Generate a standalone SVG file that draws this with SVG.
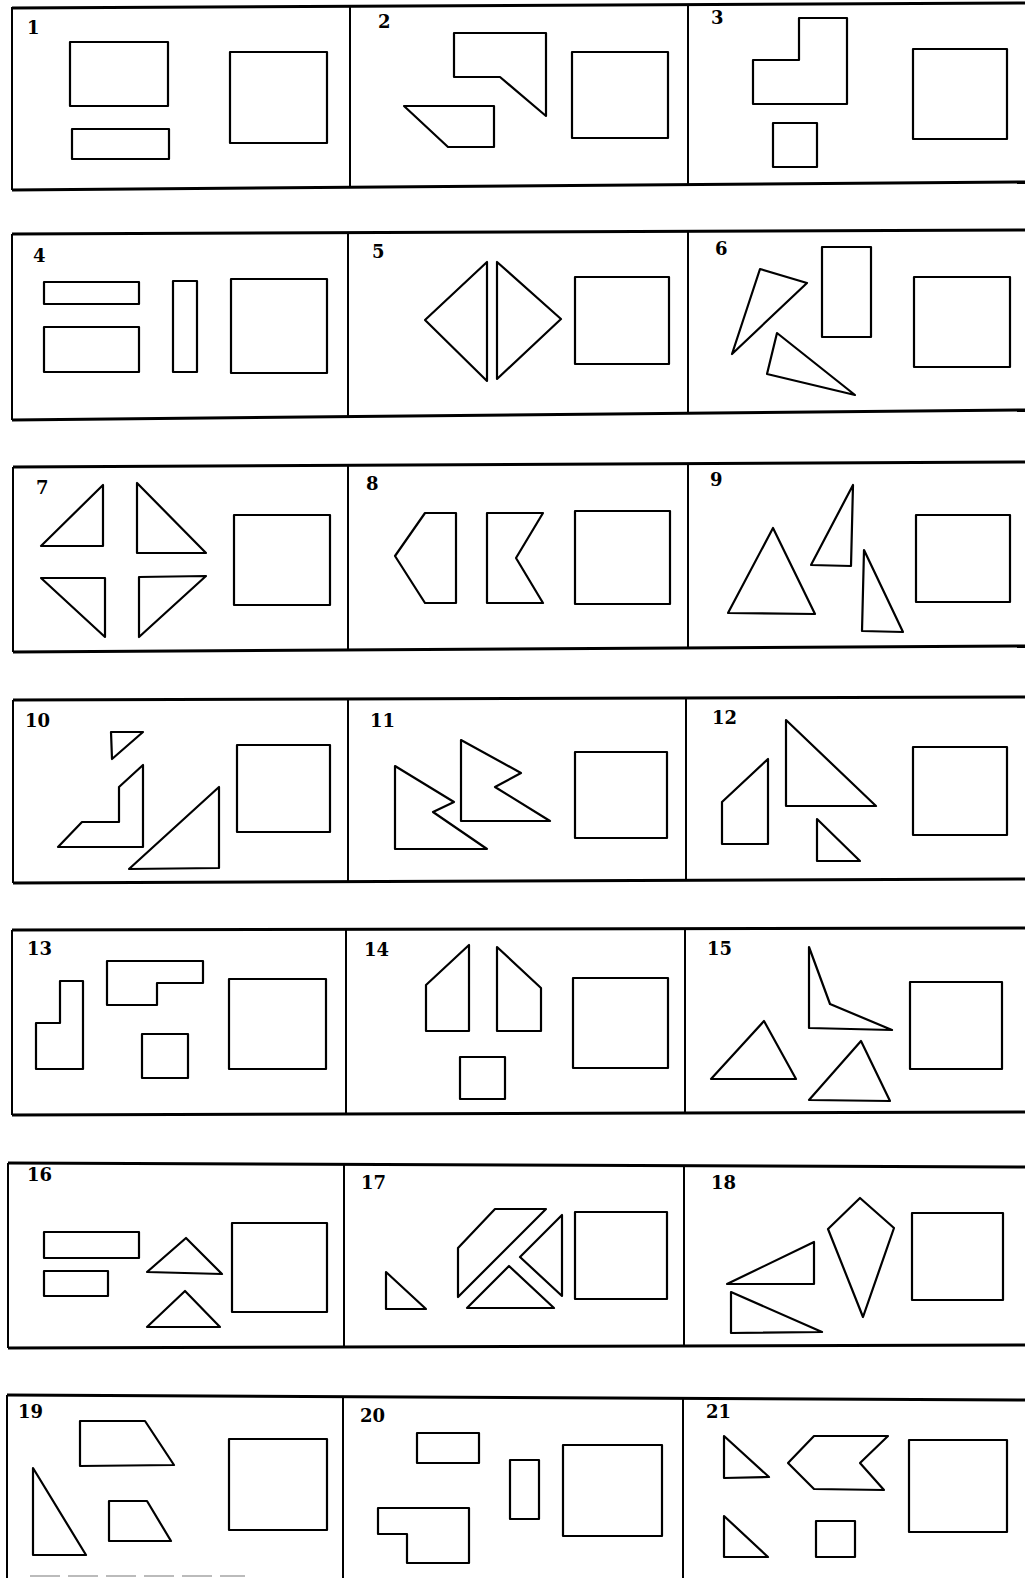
<svg xmlns="http://www.w3.org/2000/svg" width="1025" height="1578" viewBox="0 0 1025 1578">
<style>
.s{fill:none;stroke:#000;stroke-width:2.2;stroke-linejoin:round}
.h{fill:none;stroke:#000;stroke-width:3}
.v{fill:none;stroke:#000;stroke-width:2}
.n{font-family:"DejaVu Serif","Liberation Serif",serif;font-weight:bold;font-size:18px;fill:#000}
</style>
<rect width="1025" height="1578" fill="#fff"/>
<g id="frames">
<polyline class="h" points="1025,3 12,8"/><polyline class="h" points="12,190 1025,182"/>
<polyline class="v" points="12,7 12,190"/><polyline class="v" points="350,6 350,188"/><polyline class="v" points="688,5 688,185"/>
<polyline class="h" points="1025,230 12,234"/><polyline class="h" points="12,420 1025,410"/>
<polyline class="v" points="12,234 12,420"/><polyline class="v" points="348,233 348,416"/><polyline class="v" points="688,231 688,413"/>
<polyline class="h" points="1025,462 13,467"/><polyline class="h" points="13,652 1025,646"/>
<polyline class="v" points="13,467 13,652"/><polyline class="v" points="348,466 348,650"/><polyline class="v" points="688,464 688,648"/>
<polyline class="h" points="1025,697 13,700"/><polyline class="h" points="13,883 1025,879"/>
<polyline class="v" points="13,700 13,883"/><polyline class="v" points="348,699 348,882"/><polyline class="v" points="686,698 686,881"/>
<polyline class="h" points="1025,928 12,930"/><polyline class="h" points="12,1115 1025,1112"/>
<polyline class="v" points="12,930 12,1115"/><polyline class="v" points="346,929 346,1114"/><polyline class="v" points="685,929 685,1113"/>
<polyline class="h" points="1025,1167 8,1163"/><polyline class="h" points="8,1348 1025,1345"/>
<polyline class="v" points="8,1163 8,1348"/><polyline class="v" points="344,1164 344,1347"/><polyline class="v" points="684,1165 684,1346"/>
<polyline class="h" points="1025,1400 7,1395"/>
<polyline class="v" points="7,1395 7,1578"/><polyline class="v" points="343,1396 343,1578"/><polyline class="v" points="683,1398 683,1578"/>
<line x1="30" y1="1576" x2="245" y2="1576" stroke="#bbb" stroke-width="2" stroke-dasharray="30 8"/>
</g>
<g id="p1"><text class="n" x="27" y="34">1</text>
<rect class="s" x="70" y="42" width="98" height="64"/><rect class="s" x="72" y="129" width="97" height="30"/><rect class="s" x="230" y="52" width="97" height="91"/></g>
<g id="p2"><text class="n" x="378" y="28">2</text>
<polygon class="s" points="454,33 546,33 546,116 500,77 454,77"/><polygon class="s" points="404,106 494,106 494,147 448,147"/><rect class="s" x="572" y="52" width="96" height="86"/></g>
<g id="p3"><text class="n" x="711" y="24">3</text>
<polygon class="s" points="799,18 847,18 847,104 753,104 753,60 799,60"/><rect class="s" x="773" y="123" width="44" height="44"/><rect class="s" x="913" y="49" width="94" height="90"/></g>
<g id="p4"><text class="n" x="33" y="262">4</text>
<rect class="s" x="44" y="282" width="95" height="22"/><rect class="s" x="44" y="327" width="95" height="45"/><rect class="s" x="173" y="281" width="24" height="91"/><rect class="s" x="231" y="279" width="96" height="94"/></g>
<g id="p5"><text class="n" x="372" y="258">5</text>
<polygon class="s" points="487,262 487,381 425,320"/><polygon class="s" points="497,262 497,379 561,319"/><rect class="s" x="575" y="277" width="94" height="87"/></g>
<g id="p6"><text class="n" x="715" y="255">6</text>
<polygon class="s" points="760,269 807,283 732,354"/><rect class="s" x="822" y="247" width="49" height="90"/><polygon class="s" points="777,333 855,395 767,374"/><rect class="s" x="914" y="277" width="96" height="90"/></g>
<g id="p7"><text class="n" x="36" y="494">7</text>
<polygon class="s" points="103,485 103,546 41,546"/><polygon class="s" points="137,483 137,553 206,553"/><polygon class="s" points="41,578 105,578 105,637"/><polygon class="s" points="139,577 206,576 139,637"/><rect class="s" x="234" y="515" width="96" height="90"/></g>
<g id="p8"><text class="n" x="366" y="490">8</text>
<polygon class="s" points="425,513 456,513 456,603 425,603 395,556"/><polygon class="s" points="487,513 543,513 516,558 543,603 487,603"/><rect class="s" x="575" y="511" width="95" height="93"/></g>
<g id="p9"><text class="n" x="710" y="486">9</text>
<polygon class="s" points="773,528 815,614 728,613"/><polygon class="s" points="853,485 851,566 811,565"/><polygon class="s" points="864,550 903,632 862,631"/><rect class="s" x="916" y="515" width="94" height="87"/></g>
<g id="p10"><text class="n" x="25" y="727">10</text>
<polygon class="s" points="111,732 143,732 112,759"/><polygon class="s" points="143,765 143,847 58,847 82,822 119,822 119,787"/><polygon class="s" points="219,787 219,868 129,869"/><rect class="s" x="237" y="745" width="93" height="87"/></g>
<g id="p11"><text class="n" x="370" y="727">11</text>
<polygon class="s" points="395,766 454,802 433,812 487,849 395,849"/><polygon class="s" points="461,740 521,773 495,787 550,821 461,821"/><rect class="s" x="575" y="752" width="92" height="86"/></g>
<g id="p12"><text class="n" x="712" y="724">12</text>
<polygon class="s" points="768,759 768,844 722,844 722,802"/><polygon class="s" points="786,720 876,806 786,806"/><polygon class="s" points="817,819 860,861 817,861"/><rect class="s" x="913" y="747" width="94" height="88"/></g>
<g id="p13"><text class="n" x="27" y="955">13</text>
<polygon class="s" points="60,981 83,981 83,1069 36,1069 36,1023 60,1023"/><polygon class="s" points="107,961 203,961 203,983 157,983 157,1005 107,1005"/><rect class="s" x="142" y="1034" width="46" height="44"/><rect class="s" x="229" y="979" width="97" height="90"/></g>
<g id="p14"><text class="n" x="364" y="956">14</text>
<polygon class="s" points="469,945 469,1031 426,1031 426,985"/><polygon class="s" points="497,947 541,988 541,1031 497,1031"/><rect class="s" x="460" y="1057" width="45" height="42"/><rect class="s" x="573" y="978" width="95" height="90"/></g>
<g id="p15"><text class="n" x="707" y="955">15</text>
<polygon class="s" points="809,947 830,1004 892,1030 809,1028"/><polygon class="s" points="764,1021 796,1079 711,1079"/><polygon class="s" points="861,1041 890,1101 809,1100"/><rect class="s" x="910" y="982" width="92" height="87"/></g>
<g id="p16"><text class="n" x="27" y="1181">16</text>
<rect class="s" x="44" y="1232" width="95" height="26"/><rect class="s" x="44" y="1271" width="64" height="25"/><polygon class="s" points="186,1238 222,1274 147,1272"/><polygon class="s" points="185,1291 220,1327 147,1327"/><rect class="s" x="232" y="1223" width="95" height="89"/></g>
<g id="p17"><text class="n" x="361" y="1189">17</text>
<polygon class="s" points="386,1272 426,1309 386,1309"/><polygon class="s" points="495,1209 546,1209 458,1297 458,1248"/><polygon class="s" points="562,1215 562,1296 520,1257"/><polygon class="s" points="509,1266 554,1308 467,1308"/><rect class="s" x="575" y="1212" width="92" height="87"/></g>
<g id="p18"><text class="n" x="711" y="1189">18</text>
<polygon class="s" points="860,1198 894,1228 863,1317 828,1229"/><polygon class="s" points="814,1242 814,1284 727,1284"/><polygon class="s" points="731,1292 822,1332 731,1333"/><rect class="s" x="912" y="1213" width="91" height="87"/></g>
<g id="p19"><text class="n" x="18" y="1418">19</text>
<polygon class="s" points="80,1421 145,1421 174,1465 80,1466"/><polygon class="s" points="33,1468 86,1555 33,1555"/><polygon class="s" points="109,1501 147,1501 171,1541 109,1541"/><rect class="s" x="229" y="1439" width="98" height="91"/></g>
<g id="p20"><text class="n" x="360" y="1422">20</text>
<rect class="s" x="417" y="1433" width="62" height="30"/><rect class="s" x="510" y="1460" width="29" height="59"/><polygon class="s" points="378,1508 469,1508 469,1563 407,1563 407,1534 378,1534"/><rect class="s" x="563" y="1445" width="99" height="91"/></g>
<g id="p21"><text class="n" x="706" y="1418">21</text>
<polygon class="s" points="724,1436 769,1477 724,1478"/><polygon class="s" points="814,1436 888,1436 860,1463 884,1490 814,1489 788,1463"/><polygon class="s" points="724,1516 768,1557 724,1557"/><rect class="s" x="816" y="1521" width="39" height="36"/><rect class="s" x="909" y="1440" width="98" height="92"/></g>
</svg>
